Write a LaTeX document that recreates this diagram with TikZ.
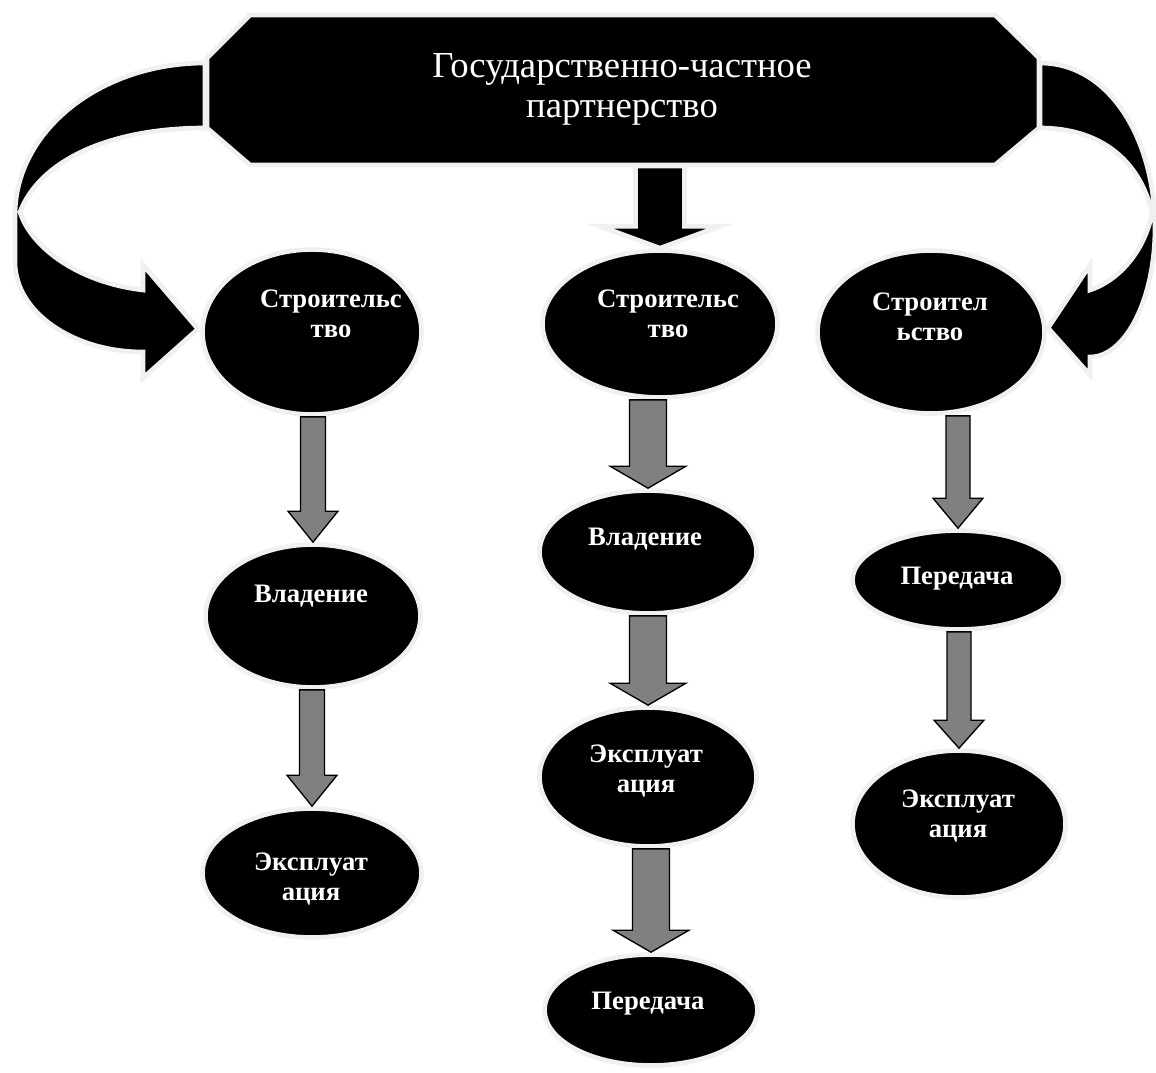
\documentclass[tikz,border=0pt]{standalone}
\usepackage{fontspec}
\setmainfont{Liberation Serif}
\usetikzlibrary{shapes.geometric,shadows,calc}

\tikzset{
  lightedge/.style={draw=gray!12, line width=3.5pt, line join=miter, drop shadow={shadow xshift=1.2pt, shadow yshift=1.2pt, fill=gray!55}},
  blob/.style 2 args={ellipse, fill=black, draw=gray!12, line width=3.5pt, inner sep=0pt,
    minimum width={(#1-5)*0.75pt}, minimum height={(#2-5)*0.75pt},
    drop shadow={shadow xshift=1.2pt, shadow yshift=-1.2pt, fill=gray!55}},
  gblock/.style={fill=gray, draw=black, line width=1pt, line join=miter},
  darkblock/.style={fill=black, draw=gray!12, line width=3.5pt, line join=miter},
  lbl/.style={text=white, font=\bfseries\fontsize{20}{22.5}\selectfont, align=center, inner sep=0pt, anchor=north},
  headline/.style={text=white, font=\fontsize{27.5}{30}\selectfont, align=center, inner sep=0pt, anchor=north}
}

% block arrow: [style] from, to, shaft half width, head half width, head length
\newcommand{\blockarrow}[6][gblock]{%
  \coordinate (ba-top) at (#2 -| #3);
  \draw[#1] ($(ba-top)+(-#4,0)$) -- ($(#3)+(-#4,-#6)$) -- ($(#3)+(-#5,-#6)$) -- (#3)
    -- ($(#3)+(#5,-#6)$) -- ($(#3)+(#4,-#6)$) -- ($(ba-top)+(#4,0)$) -- cycle;
}

\begin{document}
\begin{tikzpicture}[x=0.75pt,y=0.75pt,yscale=-1,xscale=1]
\useasboundingbox (0,0) rectangle (1156,1072);

%Curved Arrow left
\draw[lightedge, fill=black] (205,63) .. controls (100,63) and (15,131) .. (15,215) -- (15,262)
  .. controls (15,312) and (73,352) .. (143,352) -- (143,378) -- (198,329) -- (143,265) -- (143,290)
  .. controls (75,282) and (30,245) .. (20,212) .. controls (40,160) and (110,128) .. (205,128) -- cycle;
%Curved Arrow right
\draw[lightedge, fill=black] (1040,63) .. controls (1110,63) and (1155,140) .. (1155,228)
  .. controls (1155,300) and (1125,357) .. (1090,357) -- (1090,375) -- (1048,328) -- (1090,265) -- (1090,290)
  .. controls (1120,280) and (1145,250) .. (1152,213) .. controls (1140,160) and (1100,128) .. (1040,128) -- cycle;

%Shape: Octagon
\draw[lightedge, fill=black] (250,15) -- (995,15) -- (1039,58) -- (1039,128) -- (995,165) -- (250,165) -- (207,128) -- (207,58) -- cycle;
\coordinate (bannerbot) at (658,166);
% Text Node
\node[headline] (banner) at (622,53) {Государственно-частное\\партнерство};

%Shape: Ellipse
\node[blob={224}{170}] (l1) at (312,332) {};
\node[blob={220}{148}] (l2) at (313,616) {};
\node[blob={224}{134}] (l3) at (312,873) {};
\node[blob={240}{152}] (c1) at (660,324) {};
\node[blob={222}{128}] (c2) at (648,552) {};
\node[blob={222}{144}] (c3) at (648,777) {};
\node[blob={218}{116}] (c4) at (651,1010) {};
\node[blob={232}{168}] (r1) at (931,332) {};
\node[blob={216}{104}] (r2) at (958,580) {};
\node[blob={218}{152}] (r3) at (959,824) {};

% Text Node
\node[lbl] (l1t) at (331,290) {Строительс\\тво};
\node[lbl] (l2t) at (311,585) {Владение};
\node[lbl] (l3t) at (311,853) {Эксплуат\\ация};
\node[lbl] (c1t) at (668,290) {Строительс\\тво};
\node[lbl] (c2t) at (645,528) {Владение};
\node[lbl] (c3t) at (646,745) {Эксплуат\\ация};
\node[lbl] (c4t) at (648,992) {Передача};
\node[lbl] (r1t) at (930,293) {Строител\\ьство};
\node[lbl] (r2t) at (957,567) {Передача};
\node[lbl] (r3t) at (958,790) {Эксплуат\\ация};

%Down Arrows
\blockarrow[darkblock]{bannerbot}{c1.north}{24.5}{60}{22}
\blockarrow{l1.south}{l2.north}{12.5}{25}{31}
\blockarrow{l2.south}{l3.north}{12.5}{25}{31}
\blockarrow{c1.south}{c2.north}{18.5}{38}{22}
\blockarrow{c2.south}{c3.north}{18.5}{38}{22}
\blockarrow{c3.south}{c4.north}{18.5}{38}{22}
\blockarrow{r1.south}{r2.north}{12}{25}{30}
\blockarrow{r2.south}{r3.north}{12}{25}{28}

\end{tikzpicture}
\end{document}
